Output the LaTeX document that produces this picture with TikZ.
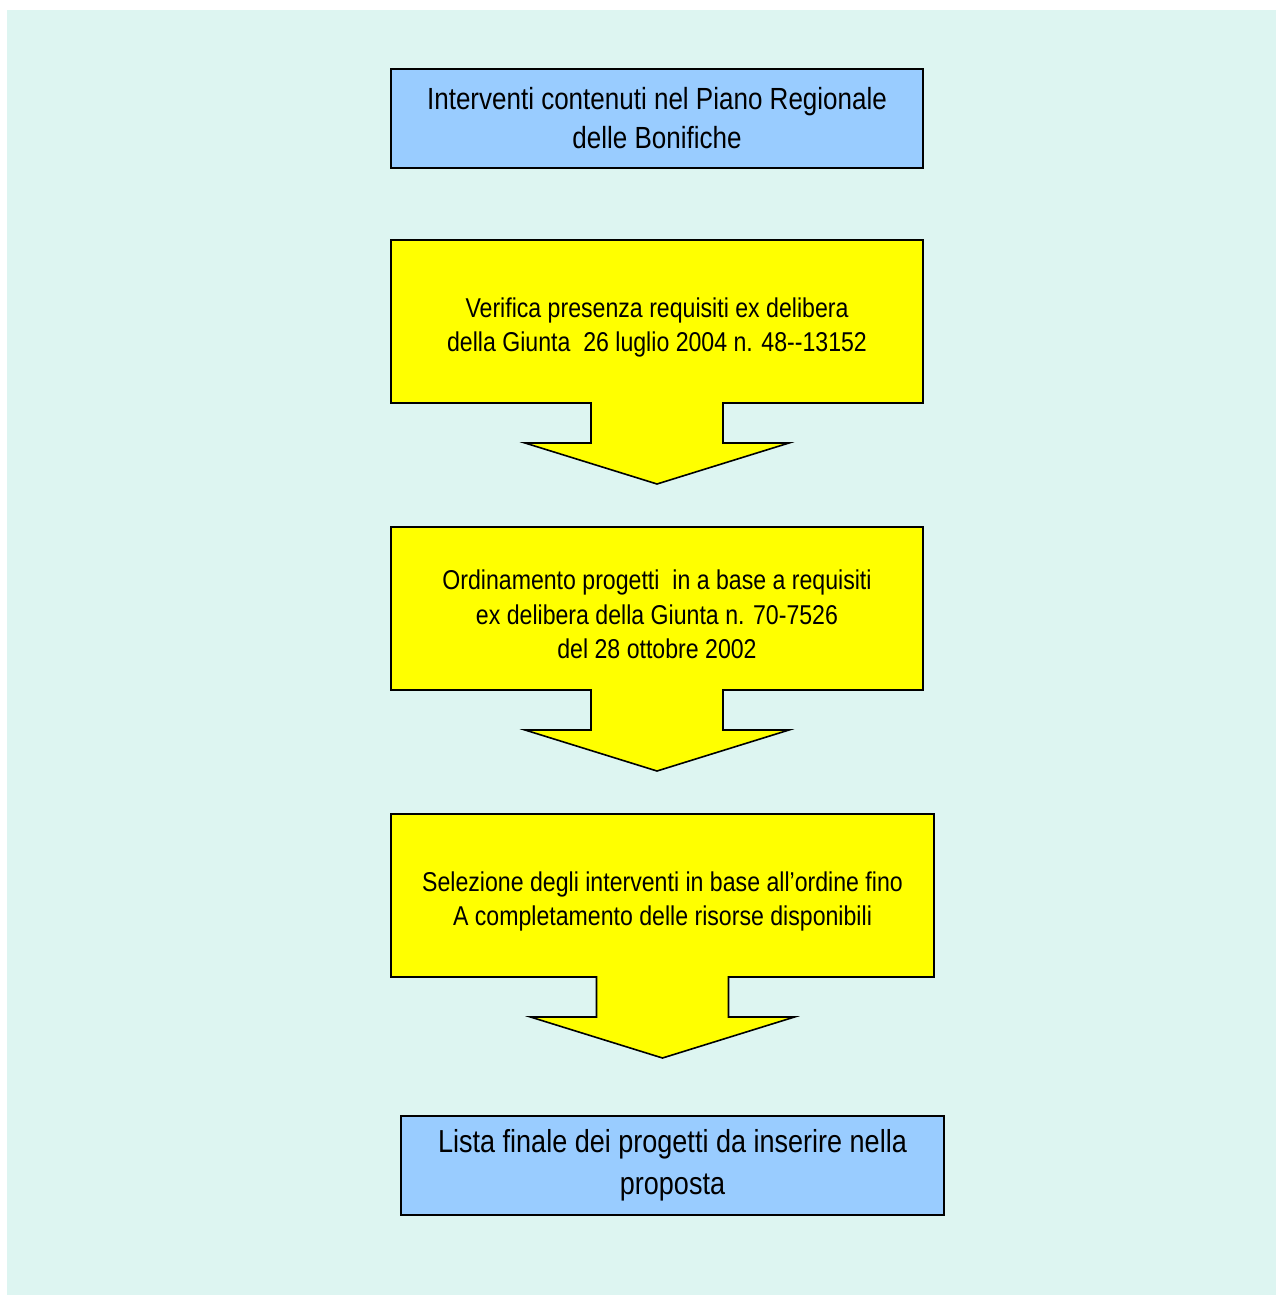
\documentclass[tikz,border=0pt]{standalone}
\usepackage{fontspec}
\setmainfont[FakeStretch=0.85]{Liberation Sans}
\usepackage{xcolor}
\usetikzlibrary{positioning,backgrounds}

\definecolor{sfondo}{HTML}{DDF5F1}
\definecolor{azzurro}{HTML}{99CCFF}
\definecolor{giallo}{HTML}{FFFF00}

\begin{document}
\begin{tikzpicture}[
  x=0.5pt, y=-0.5pt,
  blubox/.style={rectangle, draw, fill=azzurro, line width=0.8pt, align=center, inner sep=0pt, outer sep=0pt, minimum width=266pt, minimum height=49.5pt},
  arrowbox/.style={rectangle, align=center, inner sep=0pt, outer sep=0pt, minimum width=266pt, minimum height=81.5pt, font=\fontsize{13.6}{17.25}\selectfont},
  freccia/.style={draw, fill=giallo, line width=0.8pt, line join=miter}
]
\useasboundingbox (0,0) rectangle (1276,1295);

\node[blubox, font=\fontsize{15.3}{19.5}\selectfont] (piano) at (657,118.5) {Interventi contenuti nel Piano Regionale\\delle Bonifiche};
\node[arrowbox, below=39pt of piano] (verifica) {Verifica presenza requisiti ex delibera\\della Giunta\ \ 26 luglio 2004 n. 48-{}-13152};
\node[arrowbox, below=62pt of verifica] (ordinamento) {Ordinamento progetti\ \ in a base a requisiti\\ex delibera della Giunta n. 70-7526\\del 28 ottobre 2002};
\node[arrowbox, below=62pt of ordinamento, xshift=2.75pt, minimum width=271.5pt] (selezione) {Selezione degli interventi in base all’ordine fino\\A completamento delle risorse disponibili};
\node[blubox, below=66.5pt of selezione, xshift=5pt, minimum width=271.5pt, font=\fontsize{15.9}{21}\selectfont] (lista) {Lista finale dei progetti da inserire nella\\proposta};

% frecce gialle dietro il testo (alzate di 3pt sul testo)
\begin{pgfonlayer}{background}
\fill[sfondo] (7,10) rectangle (1276,1295);
\foreach \n in {verifica,ordinamento,selezione}
  \draw[freccia] ([yshift=3pt]\n.south west) -- ([yshift=3pt]\n.north west)
    -- ([yshift=3pt]\n.north east) -- ([yshift=3pt]\n.south east)
    -- ([xshift=33pt,yshift=3pt]\n.south) -- ([xshift=33pt,yshift=-17pt]\n.south)
    -- ([xshift=66pt,yshift=-17pt]\n.south) -- ([yshift=-37.5pt]\n.south)
    -- ([xshift=-66pt,yshift=-17pt]\n.south) -- ([xshift=-33pt,yshift=-17pt]\n.south)
    -- ([xshift=-33pt,yshift=3pt]\n.south) -- cycle;
\end{pgfonlayer}
\end{tikzpicture}
\end{document}
